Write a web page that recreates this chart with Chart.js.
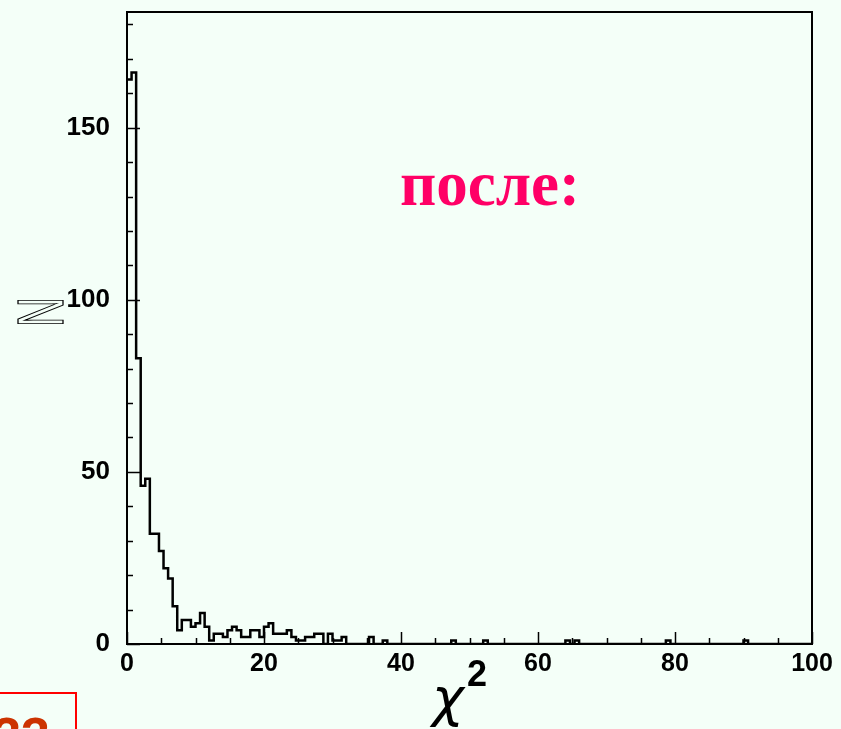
<!DOCTYPE html>
<html>
<head>
<meta charset="utf-8">
<title>chi2 histogram</title>
<script src="https://cdn.jsdelivr.net/npm/chart.js@4.4.1/dist/chart.umd.min.js"></script>
<style>
    body { margin: 0; background: #f4fff8; overflow: hidden; }
    canvas { display: block; }
</style>
</head>
<body>
<canvas id="chi2-chart" width="841" height="729"></canvas>
<script>
// histogram: 150 bins over 0..100 (bin width 2/3)
const binWidth = 2 / 3;
const counts = [
    164, 166, 83, 46, 48, 32, 32, 27, 22, 19,
    11, 4, 7, 7, 5, 6, 9, 5, 1, 3,
    3, 2, 4, 5, 4, 2, 2, 4, 4, 2,
    5, 6, 3, 3, 3, 4, 2, 1, 1, 2,
    2, 3, 3, 0, 3, 1, 1, 2, 0, 0,
    0, 0, 0, 2, 0, 0, 1, 0, 0, 0,
    0, 0, 0, 0, 0, 0, 0, 0, 0, 0,
    0, 1, 0, 0, 0, 0, 0, 0, 1, 0,
    0, 0, 0, 0, 0, 0, 0, 0, 0, 0,
    0, 0, 0, 0, 0, 0, 1, 0, 1, 0,
    0, 0, 0, 0, 0, 0, 0, 0, 0, 0,
    0, 0, 0, 0, 0, 0, 0, 0, 1, 0,
    0, 0, 0, 0, 0, 0, 0, 0, 0, 0,
    0, 0, 0, 0, 0, 1, 0, 0, 0, 0,
    0, 0, 0, 0, 0, 0, 0, 0, 0, 0
];
const xTickLabels = [0, 20, 40, 60, 80, 100];
const yTickLabels = [0, 50, 100, 150];
const xMinorStep = 5;
const yMinorStep = 10;
const yMax = 183.6;

const bg = '#f4fff8';

// step points at the left edge of every bin, closed at x=100
const points = counts.map((c, i) => ({ x: i * binWidth, y: c }));
points.push({ x: 100, y: 0 });

//frame, inward ticks and the extra labels
const decorations = {
    id: 'decorations',
    beforeDraw(chart) {
        const ctx = chart.ctx;
        ctx.save();
        ctx.fillStyle = bg;
        ctx.fillRect(0, 0, chart.width, chart.height);
        ctx.restore();
    },
    afterDatasetsDraw(chart) {
        const ctx = chart.ctx;
        const area = chart.chartArea;
        const xs = chart.scales.x;
        const ys = chart.scales.y;
        ctx.save();
        ctx.strokeStyle = '#000';
        ctx.lineWidth = 1.5;
        ctx.beginPath();
        for (let v = 0; v <= 100; v += xMinorStep) {
            const px = Math.round(xs.getPixelForValue(v)) + 0.5;
            const len = v % 20 === 0 ? 12 : 6;
            ctx.moveTo(px, area.bottom);
            ctx.lineTo(px, area.bottom - len);
        }
        for (let v = 0; v <= yMax; v += yMinorStep) {
            const py = Math.round(ys.getPixelForValue(v)) + 0.5;
            const len = v % 50 === 0 ? 13 : 6;
            ctx.moveTo(area.left, py);
            ctx.lineTo(area.left + len, py);
        }
        ctx.stroke();

        ctx.lineWidth = 2;
        ctx.strokeRect(area.left, area.top, area.right - area.left, area.bottom - area.top);
        ctx.restore();
    },
    afterDraw(chart) {
        const ctx = chart.ctx;
        ctx.save();

        // title inside the plot
        ctx.fillStyle = '#ff0066';
        ctx.font = 'bold 63px "Liberation Serif"';
        ctx.textAlign = 'left';
        ctx.textBaseline = 'alphabetic';
        ctx.fillText('после:', 400, 205);

        // rotated N as the y title
        ctx.save();
        ctx.translate(63, 312);
        ctx.rotate(-Math.PI / 2);
        ctx.scale(0.64, 1);
        ctx.strokeStyle = '#000';
        ctx.lineWidth = 1.3;
        ctx.font = '65px "Liberation Sans"';
        ctx.textAlign = 'center';
        ctx.textBaseline = 'alphabetic';
        ctx.strokeText('N', 0, 0);
        ctx.restore();

        // chi^2 as the x title
        ctx.fillStyle = '#000';
        ctx.font = 'italic 54px "DejaVu Sans"';
        ctx.textAlign = 'left';
        ctx.fillText('χ', 432, 716);
        ctx.font = 'bold 36px "Liberation Sans"';
        ctx.fillText('2', 467, 686);

        // cut-off box in the lower left corner
        ctx.strokeStyle = '#ff0000';
        ctx.lineWidth = 2;
        ctx.strokeRect(-2, 693, 78, 60);
        ctx.fillStyle = '#cc3300';
        ctx.font = 'bold 52px "Liberation Sans"';
        ctx.textAlign = 'right';
        ctx.textBaseline = 'top';
        ctx.fillText('33', 50, 714);
        ctx.restore();
    }
};

const chart = new Chart(document.getElementById('chi2-chart'), {
    type: 'line',
    data: {
        datasets: [{
            data: points,
            stepped: 'before',
            borderColor: '#000',
            borderWidth: 2.5,
            pointRadius: 0,
            fill: false
        }]
    },
    options: {
        responsive: false,
        animation: false,
        devicePixelRatio: 1,
        layout: { padding: { top: 12, right: 29, left: 0, bottom: 0 } },
        plugins: {
            legend: { display: false },
            tooltip: { enabled: false },
            title: { display: false }
        },
        scales: {
            x: {
                type: 'linear',
                min: 0,
                max: 100,
                grid: { display: false, drawTicks: false },
                border: { display: false },
                afterBuildTicks: s => { s.ticks = xTickLabels.map(v => ({ value: v })); },
                afterFit: s => { s.height = 85; },
                ticks: {
                    color: '#000',
                    padding: 5,
                    maxRotation: 0,
                    autoSkip: false,
                    font: { family: '"Liberation Sans"', size: 25, weight: 'bold' }
                }
            },
            y: {
                type: 'linear',
                min: 0,
                max: yMax,
                grid: { display: false, drawTicks: false },
                border: { display: false },
                afterBuildTicks: s => { s.ticks = yTickLabels.map(v => ({ value: v })); },
                afterFit: s => {
                    s.width = 127;
                    s.paddingTop = 0;
                    s.paddingBottom = 0;
                },
                ticks: {
                    color: '#000',
                    padding: 17,
                    autoSkip: false,
                    font: { family: '"Liberation Sans"', size: 26, weight: 'bold' }
                }
            }
        }
    },
    plugins: [decorations]
});
</script>
</body>
</html>
